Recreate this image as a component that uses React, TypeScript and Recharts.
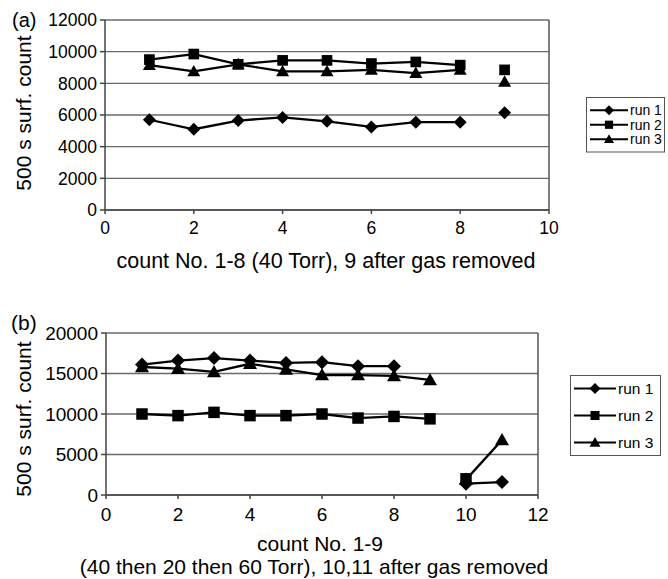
import React from 'react';
import { LineChart, Line, XAxis, YAxis, CartesianGrid, Legend, ReferenceLine } from 'recharts';

const FONT = '"Liberation Sans", Arial, Helvetica, sans-serif';

// (a) counts 1-8 at 40 Torr, count 9 after the gas was removed
const countsA = [1, 2, 3, 4, 5, 6, 7, 8];
const gasCountsA = [9];
const run1A = [5700, 5100, 5650, 5850, 5600, 5250, 5550, 5550];
const run2A = [9500, 9850, 9200, 9450, 9450, 9250, 9350, 9150];
const run3A = [9150, 8750, 9200, 8750, 8750, 8850, 8650, 8850];
const run1AGas = [6150];
const run2AGas = [8850];
const run3AGas = [8100];
const xTicksA = [0, 2, 4, 6, 8, 10];
const yTicksA = [0, 2000, 4000, 6000, 8000, 10000, 12000];

// (b) counts 1-9 (40 then 20 then 60 Torr), counts 10,11 after the gas was removed
const countsB = [1, 2, 3, 4, 5, 6, 7, 8, 9];
const gasCountsB = [10, 11];
const run1B = [16100, 16600, 16900, 16600, 16300, 16400, 15900, 15900, null];
const run2B = [10000, 9800, 10200, 9800, 9800, 10000, 9500, 9700, 9400];
const run3B = [15800, 15600, 15200, 16200, 15500, 14800, 14800, 14700, 14200];
const run1BGas = [1400, 1600];
const run2BGas = [2000, null];
const run3BGas = [1900, 6800];
const xTicksB = [0, 2, 4, 6, 8, 10, 12];
const yTicksB = [0, 5000, 10000, 15000, 20000];

const runNames = ['run 1', 'run 2', 'run 3'];
const shapes: Record<string, string> = { 'run 1': 'diamond', 'run 2': 'square', 'run 3': 'triangle' };

type Val = number | null;

function buildRows(counts: number[], gasCounts: number[], runs: Val[][], gasRuns: Val[][]) {
    const rows: any[] = [];
    counts.forEach((c, i) => {
        rows.push({ count: c, r1: runs[0][i], r2: runs[1][i], r3: runs[2][i], g1: null, g2: null, g3: null });
    });
    gasCounts.forEach((c, i) => {
        rows.push({ count: c, r1: null, r2: null, r3: null, g1: gasRuns[0][i], g2: gasRuns[1][i], g3: gasRuns[2][i] });
    });
    return rows;
}

const dataA = buildRows(countsA, gasCountsA, [run1A, run2A, run3A], [run1AGas, run2AGas, run3AGas]);
const dataB = buildRows(countsB, gasCountsB, [run1B, run2B, run3B], [run1BGas, run2BGas, run3BGas]);

function Marker({ cx, cy, shape, size }: { cx: number; cy: number; shape: string; size: number }) {
    const h = size / 2;
    if (shape === 'diamond') {
        return <path d={`M${cx},${cy - h}L${cx + h},${cy}L${cx},${cy + h}L${cx - h},${cy}Z`} fill="#000" />;
    }
    if (shape === 'square') {
        const s = size * 0.82;
        return <rect x={cx - s / 2} y={cy - s / 2} width={s} height={s} fill="#000" />;
    }
    return <path d={`M${cx},${cy - h}L${cx + h},${cy + h * 0.75}L${cx - h},${cy + h * 0.75}Z`} fill="#000" />;
}

const makeDot = (shape: string, size: number) => (props: any) => {
    const { cx, cy, index } = props;
    if (cx == null || cy == null || Number.isNaN(cy)) return <g key={`${shape}-${index}`} />;
    return (
        <g key={`${shape}-${index}`}>
            <Marker cx={cx} cy={cy} shape={shape} size={size} />
        </g>
    );
};

// legend drawn as one small svg: a framed box with a line+marker sample per run
function LegendBox({ payload, fontSize, rowH, lineW, size, padY, boxW }: any) {
    const items = (payload || []).filter((p: any) => runNames.includes(p.value));
    const boxH = padY * 2 + rowH * items.length;
    return (
        <svg width={boxW} height={boxH} style={{ display: 'block' }}>
            <rect x={0.5} y={0.5} width={boxW - 1} height={boxH - 1} fill="#fff" stroke="#555" strokeWidth={1} />
            {items.map((it: any, i: number) => {
                const cy = padY + rowH * i + rowH / 2;
                return (
                    <g key={it.value}>
                        <line x1={4} x2={4 + lineW} y1={cy} y2={cy} stroke="#000" strokeWidth={2} />
                        <Marker cx={4 + lineW / 2} cy={cy} shape={shapes[it.value]} size={size} />
                        <text x={lineW + 6} y={cy + fontSize * 0.36} fontSize={fontSize} fontFamily={FONT} fill="#000">
                            {it.value}
                        </text>
                    </g>
                );
            })}
        </svg>
    );
}

function Panel({ data, xTicks, yTicks, xMax, yMax, height, margin, yw, tickFont, tickGap, legendPos, legendProps, markerSize }: any) {
    const tick = { fill: '#000', fontSize: tickFont, fontFamily: FONT };
    const lines = [
        { key: 'r1', gas: 'g1', name: 'run 1' },
        { key: 'r2', gas: 'g2', name: 'run 2' },
        { key: 'r3', gas: 'g3', name: 'run 3' },
    ];
    return (
        <LineChart width={668} height={height} data={data} margin={margin}>
            <CartesianGrid vertical={false} stroke="#6a6a6a" strokeWidth={1.4} />
            <XAxis
                type="number"
                dataKey="count"
                domain={[0, xMax]}
                ticks={xTicks}
                tick={tick}
                tickSize={4}
                tickMargin={tickGap}
                stroke="#444"
                strokeWidth={1.5}
            />
            <YAxis
                type="number"
                domain={[0, yMax]}
                ticks={yTicks}
                tick={tick}
                tickSize={5}
                tickMargin={3}
                width={yw}
                stroke="#444"
                strokeWidth={1.5}
            />
            <ReferenceLine x={xMax} stroke="#555" strokeWidth={1.5} />
            <Legend
                layout="vertical"
                align="center"
                verticalAlign="middle"
                wrapperStyle={{ left: legendPos.left, top: legendPos.top, width: legendProps.boxW }}
                content={(p: any) => <LegendBox payload={p.payload} {...legendProps} />}
            />
            {lines.map((l) => (
                <Line
                    key={l.key}
                    dataKey={l.key}
                    name={l.name}
                    stroke="#000"
                    strokeWidth={2.3}
                    dot={makeDot(shapes[l.name], markerSize)}
                    activeDot={false}
                    connectNulls={false}
                    isAnimationActive={false}
                />
            ))}
            {lines.map((l) => (
                <Line
                    key={l.gas}
                    dataKey={l.gas}
                    name={`${l.name} gas`}
                    legendType="none"
                    stroke="#000"
                    strokeWidth={2.3}
                    dot={makeDot(shapes[l.name], markerSize)}
                    activeDot={false}
                    connectNulls={false}
                    isAnimationActive={false}
                />
            ))}
        </LineChart>
    );
}

export default function App() {
    return (
        <div style={{ position: 'absolute', left: 0, top: 0, width: 668, height: 579, background: '#fff', fontFamily: FONT }}>
            <div style={{ position: 'absolute', left: 0, top: 0 }}>
                <Panel
                    data={dataA}
                    xTicks={xTicksA}
                    yTicks={yTicksA}
                    xMax={10}
                    yMax={12000}
                    height={290}
                    margin={{ top: 20, right: 119, bottom: 50, left: 0 }}
                    yw={105}
                    tickFont={17.5}
                    tickGap={8}
                    markerSize={13}
                    legendPos={{ left: 586, top: 97 }}
                    legendProps={{ fontSize: 14, rowH: 14.5, lineW: 38, size: 10, padY: 6, boxW: 79 }}
                />
            </div>
            <div style={{ position: 'absolute', left: 0, top: 290 }}>
                <Panel
                    data={dataB}
                    xTicks={xTicksB}
                    yTicks={yTicksB}
                    xMax={12}
                    yMax={20000}
                    height={289}
                    margin={{ top: 43, right: 130, bottom: 54, left: 0 }}
                    yw={106}
                    tickFont={19}
                    tickGap={9}
                    markerSize={14}
                    legendPos={{ left: 570, top: 85 }}
                    legendProps={{ fontSize: 15.5, rowH: 27, lineW: 42, size: 11, padY: 0, boxW: 91 }}
                />
            </div>
            <svg width={668} height={579} style={{ position: 'absolute', left: 0, top: 0, pointerEvents: 'none' }}>
                <g fontFamily={FONT} fill="#000">
                    <text x={12} y={27} fontSize={20}>(a)</text>
                    <text x={11} y={330} fontSize={21}>(b)</text>
                    <text transform="translate(31,113) rotate(-90)" textAnchor="middle" fontSize={21}>500 s surf. count</text>
                    <text transform="translate(31,419) rotate(-90)" textAnchor="middle" fontSize={21}>500 s surf. count</text>
                    <text x={326} y={268} textAnchor="middle" fontSize={21.5}>count No. 1-8 (40 Torr), 9 after gas removed</text>
                    <text x={320} y={551} textAnchor="middle" fontSize={21}>count No. 1-9</text>
                    <text x={314} y={574} textAnchor="middle" fontSize={21}>(40 then 20 then 60 Torr), 10,11 after gas removed</text>
                </g>
            </svg>
        </div>
    );
}
